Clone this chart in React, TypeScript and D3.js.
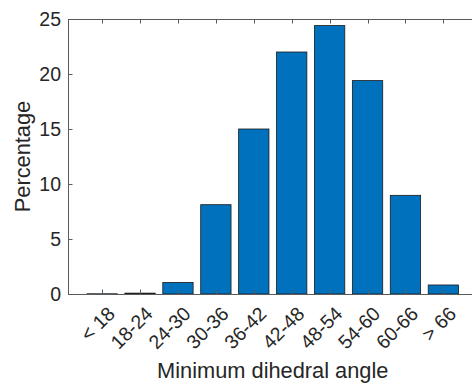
import { useEffect, useRef } from "react";
import * as d3 from "d3";

const CATEGORIES = ["< 18", "18-24", "24-30", "30-36", "36-42", "42-48", "48-54", "54-60", "60-66", "> 66"];
const PERCENTAGES = [0.02, 0.08, 1.05, 8.12, 15.0, 22.0, 24.4, 19.4, 8.97, 0.82];
const Y_TICKS = [0, 5, 10, 15, 20, 25];

const W = 472;
const H = 387;
const FONT = "'Liberation Sans', Arial, Helvetica, sans-serif";
const INK = "#262626";
const BAR = "#0072BD";

export default function App() {
  const svgRef = useRef<SVGSVGElement>(null);

  useEffect(() => {
    if (!svgRef.current) return;
    const svg = d3.select(svgRef.current);
    svg.selectAll("*").remove();

    const left = 68;
    const right = 477.5; // axes run past the cropped edge
    const top = 19;
    const bottom = 294;

    const x = d3.scaleLinear().domain([0.1, 10.9]).range([left, right]);
    const y = d3.scaleLinear().domain([0, 25]).range([bottom, top]);
    const barW = x(1.8) - x(1);

    // bars
    svg.append("g")
      .selectAll("rect")
      .data(PERCENTAGES)
      .join("rect")
      .attr("x", (_, i) => x(i + 1) - barW / 2)
      .attr("y", d => y(d))
      .attr("width", barW)
      .attr("height", d => bottom - y(d))
      .attr("fill", BAR)
      .attr("stroke", "#1a1a1a")
      .attr("stroke-width", 0.8);

    // axes box (top + bottom + left)
    const axisColor = "#5a5a5a";
    svg.append("line").attr("x1", left).attr("x2", right).attr("y1", bottom + 0.5).attr("y2", bottom + 0.5)
      .attr("stroke", axisColor).attr("stroke-width", 1);
    svg.append("line").attr("x1", left).attr("x2", right).attr("y1", top + 0.5).attr("y2", top + 0.5)
      .attr("stroke", axisColor).attr("stroke-width", 1);
    svg.append("line").attr("x1", left + 0.5).attr("x2", left + 0.5).attr("y1", top).attr("y2", bottom + 1)
      .attr("stroke", axisColor).attr("stroke-width", 1);

    // x ticks (inward, bottom and top)
    CATEGORIES.forEach((_, i) => {
      const tx = Math.round(x(i + 1)) + 0.5;
      svg.append("line").attr("x1", tx).attr("x2", tx).attr("y1", bottom).attr("y2", bottom - 4.5)
        .attr("stroke", axisColor).attr("stroke-width", 1);
      svg.append("line").attr("x1", tx).attr("x2", tx).attr("y1", top).attr("y2", top + 4.5)
        .attr("stroke", axisColor).attr("stroke-width", 1);
    });

    // y ticks + labels
    Y_TICKS.forEach(t => {
      const ty = Math.round(y(t)) + 0.5;
      svg.append("line").attr("x1", left).attr("x2", left + 4.5).attr("y1", ty).attr("y2", ty)
        .attr("stroke", axisColor).attr("stroke-width", 1);
      svg.append("text")
        .attr("x", left - 7)
        .attr("y", y(t))
        .attr("dy", "0.36em")
        .attr("text-anchor", "end")
        .attr("fill", INK)
        .attr("font-size", "19.5px")
        .attr("font-family", FONT)
        .text(t);
    });

    // rotated category labels
    CATEGORIES.forEach((c, i) => {
      svg.append("text")
        .attr("transform", `translate(${x(i + 1) + 9},${bottom + 16}) rotate(-45)`)
        .attr("text-anchor", "end")
        .attr("dy", "0.36em")
        .attr("fill", INK)
        .attr("font-size", "19.5px")
        .attr("font-family", FONT)
        .text(c);
    });

    // axis titles
    svg.append("text")
      .attr("x", (left + right) / 2)
      .attr("y", 378)
      .attr("text-anchor", "middle")
      .attr("fill", INK)
      .attr("font-size", "21.8px")
      .attr("font-family", FONT)
      .text("Minimum dihedral angle");

    svg.append("text")
      .attr("transform", `translate(29.5,${(top + bottom) / 2}) rotate(-90)`)
      .attr("text-anchor", "middle")
      .attr("fill", INK)
      .attr("font-size", "21.8px")
      .attr("font-family", FONT)
      .text("Percentage");
  }, []);

  return (
    <div style={{ position: "absolute", left: 0, top: 0, width: W, height: H, background: "#fff" }}>
      <svg ref={svgRef} width={W} height={H} style={{ display: "block" }} />
    </div>
  );
}
